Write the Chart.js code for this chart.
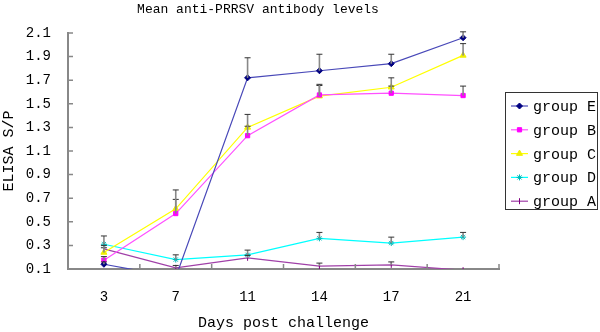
<!DOCTYPE html>
<html>
<head>
<meta charset="utf-8">
<script src="https://cdn.jsdelivr.net/npm/chart.js@4/dist/chart.umd.min.js"></script>
<style>
  html, body { margin: 0; padding: 0; background: #fff; }
  #wrap { width: 600px; height: 332px; }
</style>
</head>
<body>
<div id="wrap"><canvas id="lineChart" width="600" height="332"></canvas></div>
<script>
// days after challenge
const days = ['3', '7', '11', '14', '17', '21'];

// mean ELISA S/P per group
const groupE = [0.14, 0.03, 1.72, 1.78, 1.84, 2.06];
const groupB = [0.175, 0.57, 1.23, 1.575, 1.59, 1.57];
const groupC = [0.24, 0.61, 1.30, 1.565, 1.64, 1.91];
const groupD = [0.31, 0.18, 0.22, 0.36, 0.32, 0.37];
const groupA = [0.27, 0.11, 0.195, 0.125, 0.135, 0.09];

// upper error bars
const errE = [0.02, 0, 0.17, 0.14, 0.08, 0.05];
const errB = [0.03, 0.12, 0.08, 0.08, 0.06, 0.08];
const errC = [0.04, 0.16, 0.11, 0.10, 0.08, 0.10];
const errD = [0.07, 0.04, 0.04, 0.05, 0.05, 0.04];
const errA = [0.03, 0.02, 0.02, 0.025, 0.025, 0.01];

const yTicks = [0.1, 0.3, 0.5, 0.7, 0.9, 1.1, 1.3, 1.5, 1.7, 1.9, 2.1];

const MONO = '"Liberation Mono", "DejaVu Sans Mono", monospace';

function series(label, data, errs, line, point, style, radius, rotation) {
  return {
    label: label,
    data: data,
    errors: errs,
    borderColor: line,
    backgroundColor: point,
    pointBorderColor: point,
    pointBackgroundColor: point,
    pointStyle: style,
    pointRadius: radius,
    pointRotation: rotation || 0,
    pointBorderWidth: 1,
    borderWidth: 1.2,
    tension: 0
  };
}

// error bars (upper half only)
const errorBars = {
  id: 'errorBars',
  afterDatasetsDraw(chart) {
    const ctx = chart.ctx;
    const x = chart.scales.x, y = chart.scales.y;
    ctx.save();
    chart.data.datasets.forEach(ds => {
      ds.data.forEach((v, i) => {
        const e = ds.errors[i];
        if (!e || v < y.min) return;
        const px = x.getPixelForValue(i);
        const y0 = y.getPixelForValue(v);
        const y1 = y.getPixelForValue(v + e);
        ctx.strokeStyle = '#888';
        ctx.lineWidth = 1.6;
        ctx.beginPath(); ctx.moveTo(px, y0); ctx.lineTo(px, y1); ctx.stroke();
        ctx.strokeStyle = '#333';
        ctx.lineWidth = 1;
        ctx.beginPath(); ctx.moveTo(px - 3, y1); ctx.lineTo(px + 3, y1); ctx.stroke();
      });
    });
    ctx.restore();
  }
};

// inside tick marks like the original
const tickMarks = {
  id: 'tickMarks',
  afterDraw(chart) {
    const ctx = chart.ctx;
    const x = chart.scales.x, y = chart.scales.y;
    const area = chart.chartArea;
    ctx.save();
    ctx.strokeStyle = '#888';
    ctx.lineWidth = 1.5;
    ctx.beginPath();
    yTicks.forEach(t => {
      const py = y.getPixelForValue(t);
      ctx.moveTo(area.left, py); ctx.lineTo(area.left + 5, py);
    });
    for (let i = 0; i <= days.length; i++) {
      const px = x.getPixelForValue(i - 0.5);
      ctx.moveTo(px, area.bottom); ctx.lineTo(px, area.bottom - 5);
    }
    ctx.stroke();
    ctx.restore();
  }
};

// boxed legend on the right
const boxLegend = {
  id: 'boxLegend',
  afterDraw(chart) {
    const ctx = chart.ctx;
    const left = 505.5, top = 92.5, w = 92, h = 117;
    ctx.save();
    ctx.fillStyle = '#fff';
    ctx.fillRect(left, top, w, h);
    ctx.strokeStyle = '#333';
    ctx.lineWidth = 1;
    ctx.strokeRect(left, top, w, h);
    ctx.font = '15px ' + MONO;
    ctx.textBaseline = 'middle';
    chart.data.datasets.forEach((ds, i) => {
      const ly = top + 13.5 + i * 23.8;
      ctx.strokeStyle = ds.borderColor;
      ctx.lineWidth = 1.2;
      ctx.beginPath(); ctx.moveTo(511, ly); ctx.lineTo(528, ly); ctx.stroke();
      ctx.fillStyle = ds.pointBackgroundColor;
      ctx.strokeStyle = ds.pointBorderColor;
      ctx.lineWidth = 1;
      Chart.helpers.drawPoint(ctx, {
        pointStyle: ds.pointStyle, radius: ds.pointRadius,
        rotation: ds.pointRotation, borderWidth: 1
      }, 519.5, ly);
      ctx.fillStyle = '#000';
      ctx.fillText(ds.label, 533, ly + 1);
    });
    ctx.restore();
  }
};

const ctx1 = document.getElementById('lineChart').getContext('2d');
new Chart(ctx1, {
  type: 'line',
  data: {
    labels: days,
    datasets: [
      series('group E', groupE, errE, '#4848b8', '#000080', 'rectRot', 3),
      series('group B', groupB, errB, '#ff50ff', '#ff00ff', 'rect', 3),
      series('group C', groupC, errC, '#ffff00', '#f0f000', 'triangle', 3.5),
      series('group D', groupD, errD, '#00ffff', '#00b8b8', 'star', 3),
      series('group A', groupA, errA, '#a040a8', '#800080', 'line', 3, 90)
    ]
  },
  options: {
    responsive: false,
    animation: false,
    layout: { padding: { left: 17, right: 101, top: 0, bottom: 0 } },
    plugins: {
      legend: { display: false },
      tooltip: { enabled: false },
      title: {
        display: true,
        text: 'Mean anti-PRRSV antibody levels',
        color: '#000',
        font: { family: MONO, size: 13, weight: 'normal' },
        padding: { top: 2, bottom: 15.4 }
      }
    },
    scales: {
      x: {
        type: 'category',
        offset: true,
        grid: { offset: true, drawOnChartArea: false, drawTicks: false },
        border: { display: true, color: '#888', width: 2 },
        ticks: { color: '#000', font: { family: MONO, size: 14 }, padding: 20, maxRotation: 0 },
        title: {
          display: true, text: 'Days post challenge', color: '#000',
          font: { family: MONO, size: 15 }, padding: 0
        },
        afterFit: s => { s.height = 63; }
      },
      y: {
        min: 0.1,
        max: 2.1,
        afterBuildTicks: s => { s.ticks = yTicks.map(v => ({ value: v })); },
        grid: { drawOnChartArea: false, drawTicks: false },
        border: { display: true, color: '#888', width: 2 },
        ticks: { color: '#000', font: { family: MONO, size: 14 }, padding: 17,
                 callback: v => Number(v).toFixed(1) },
        title: {
          display: true, text: 'ELISA S/P', color: '#000',
          font: { family: MONO, size: 15 }, padding: { top: -17, bottom: 0 }
        },
        afterFit: s => { s.width = 51; }
      }
    }
  },
  plugins: [errorBars, tickMarks, boxLegend]
});
</script>
</body>
</html>
